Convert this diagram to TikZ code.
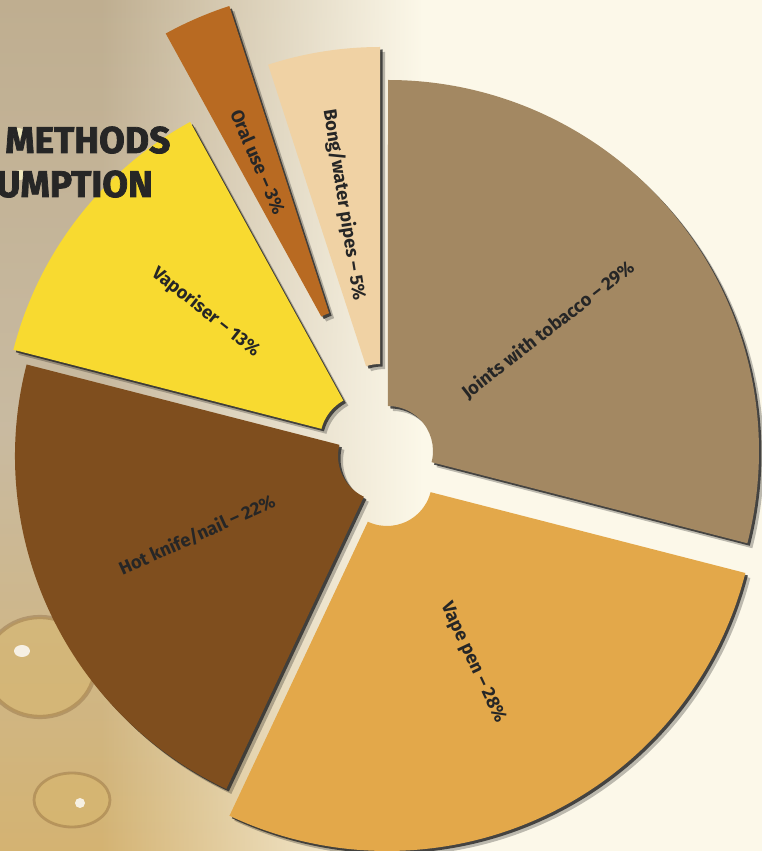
\documentclass[tikz,border=0pt]{standalone}
\usepackage{fontspec}
\setmainfont{Fira Sans}
\newfontfamily\heavyfont[FakeBold=2]{Fira Sans}
\usetikzlibrary{calc,fadings}

\definecolor{jointscol}{HTML}{A38862}
\definecolor{vapepencol}{HTML}{E3A84A}
\definecolor{hotknifecol}{HTML}{7F4E1E}
\definecolor{vapcol}{HTML}{F8DA30}
\definecolor{oralcol}{HTML}{B86A22}
\definecolor{bongcol}{HTML}{F0D2A4}
\definecolor{inkcol}{HTML}{262626}
\definecolor{creamcol}{HTML}{FCF8E9}
\definecolor{photocol}{HTML}{BFAE90}
\definecolor{goldcol}{HTML}{D4B372}
\definecolor{dropcol}{HTML}{D8B76E}

\tikzfading[name=fadetoright, left color=transparent!100, right color=transparent!0]

\tikzset{
  lbl/.style={font=\bfseries\fontsize{13}{13}\selectfont, text=inkcol, inner sep=0pt},
  titletext/.style={font=\heavyfont\bfseries\fontsize{26.5}{26.5}\selectfont, text=inkcol, anchor=base west, inner sep=0pt},
}

\begin{document}
\begin{tikzpicture}[x=0.025cm, y=0.025cm]
    \useasboundingbox (0,0) rectangle (762,851);
    \clip (0,0) rectangle (762,851);

    % background photo, roughly
    \fill[creamcol] (0,0) rectangle (762,851);
    \shade[bottom color=goldcol, top color=photocol, middle color=photocol!85!white] (0,0) rectangle (420,851);
    \fill[creamcol, path fading=fadetoright] (100,0) rectangle (421,851);
    \fill[dropcol, opacity=.55, draw=brown!60!black, draw opacity=.3, line width=3pt] (40,184) ellipse[x radius=55, y radius=50];
    \fill[dropcol, opacity=.55, draw=brown!60!black, draw opacity=.3, line width=2pt] (72,51) ellipse[x radius=38, y radius=27];
    \fill[white, opacity=.8] (22,200) ellipse[x radius=8, y radius=6];
    \fill[white, opacity=.8] (80,48) circle[radius=5];
    \fill[white!80!yellow, opacity=.7] (18,718) ellipse[x radius=7, y radius=5];
    \fill[white!80!yellow, opacity=.7] (20,676) ellipse[x radius=7, y radius=5];

    % wedges: apex x/apex y/start/end/outer radius/colour
    \foreach \ax/\ay/\aa/\ab/\R/\col in {388/400/-14.4/90/371/jointscol,
        387/370/-115.2/-14.4/370/vapepencol, 383/395/165.6/244.8/368/hotknifecol,
        365/411/118.8/165.6/363/vapcol, 343/495/108/118.8/368/oralcol,
        380/442/90/108/362/bongcol}
    {
        \fill[black, opacity=.25] ($(\ax+5,\ay-5)+(\aa:45)$) arc[start angle=\aa, end angle=\ab, radius=1.125cm]
            -- ($(\ax+5,\ay-5)+(\ab:\R)$) arc[start angle=\ab, end angle=\aa, radius=\R*0.025 cm] -- cycle;
        \fill[black!85, opacity=.8] ($(\ax+2.5,\ay-2.5)+(\aa:45)$) arc[start angle=\aa, end angle=\ab, radius=1.125cm]
            -- ($(\ax+2.5,\ay-2.5)+(\ab:\R)$) arc[start angle=\ab, end angle=\aa, radius=\R*0.025 cm] -- cycle;
        \fill[\col] ($(\ax,\ay)+(\aa:45)$) arc[start angle=\aa, end angle=\ab, radius=1.125cm]
            -- ($(\ax,\ay)+(\ab:\R)$) arc[start angle=\ab, end angle=\aa, radius=\R*0.025 cm] -- cycle;
    }

    \node[lbl, rotate=37.8] (joints) at (548,521) {Joints with tobacco – 29\%};
    \node[lbl, rotate=-64.8] (vapepen) at (473,188) {Vape pen – 28\%};
    \node[lbl, rotate=24.4] (hotknife) at (197,316) {Hot knife/nail – 22\%};
    \node[lbl, rotate=-38.3] (vaporiser) at (206,539) {Vaporiser – 13\%};
    \node[lbl, rotate=-66.6] (oral) at (258,689) {Oral use – 3\%};
    \node[lbl, rotate=-81] (bong) at (344,646) {Bong/water pipes – 5\%};

    \node[titletext] (titleone) at (5,698) {METHODS};
    \node[titletext] (titletwo) at (-4,654) {UMPTION};
\end{tikzpicture}
\end{document}
